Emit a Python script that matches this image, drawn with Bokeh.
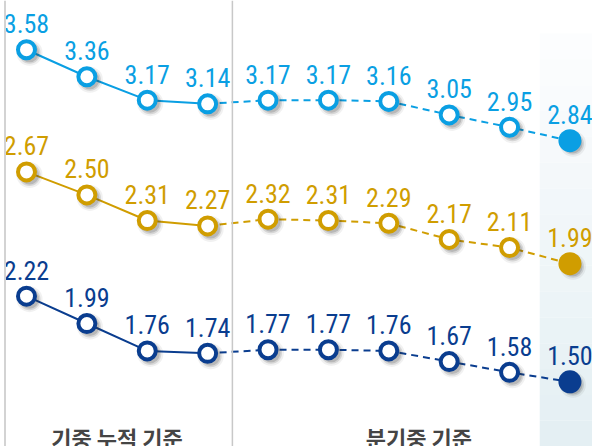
from bokeh.plotting import figure
from bokeh.models import Range1d, Span, BoxAnnotation, Label, ColumnDataSource
from bokeh.core.properties import value
from bokeh.embed import file_html
from bokeh.resources import INLINE

# ---------------- data ----------------
x_idx = list(range(10))
groups = ["기중 누적 기준", "분기중 기준"]
group_sizes = [4, 6]
blue_vals = [3.58, 3.36, 3.17, 3.14, 3.17, 3.17, 3.16, 3.05, 2.95, 2.84]
gold_vals = [2.67, 2.50, 2.31, 2.27, 2.32, 2.31, 2.29, 2.17, 2.11, 1.99]
navy_vals = [2.22, 1.99, 1.76, 1.74, 1.77, 1.77, 1.76, 1.67, 1.58, 1.50]

# ---------------- layout ----------------
W, H = 592, 446
PX_X = 60.38
X0 = -26 / PX_X
X1 = X0 + W / PX_X

# per-series vertical scale: (top value, px per unit)
series = [
    ("blue", blue_vals, "#0a9fe3", 3.159 + 101 / 123.0, 123.0),
    ("gold", gold_vals, "#d09d00", 2.294 + 222.2 / 135.0, 135.0),
    ("navy", navy_vals, "#0a3d8f", 1.776 + 348.5 / 119.0, 119.0),
]

NUM_FONT = value("Roboto Condensed")
KR_FONT = "Noto Sans CJK KR"

p = figure(width=W, height=H, output_backend="svg", toolbar_location=None,
           x_range=Range1d(X0, X1), y_range=Range1d(0, 1), min_border=0)
p.axis.visible = False
p.grid.visible = False
p.outline_line_color = None
p.background_fill_color = "white"
p.border_fill_color = "white"

SH = 3  # shadow offset px
p.extra_x_ranges = {"xsh": Range1d(X0 - SH / PX_X, X1 - SH / PX_X)}

# gradient panel on the right
n_bands = 16
top_frac = 1 - 33 / H
c0 = (252, 253, 254)
c1 = (228, 239, 243)
for b in range(n_bands):
    t = b / (n_bands - 1)
    col = tuple(int(round(c0[k] + (c1[k] - c0[k]) * t)) for k in range(3))
    band_top = top_frac - b * top_frac / n_bands
    band_bot = top_frac - (b + 1) * top_frac / n_bands
    p.add_layout(BoxAnnotation(left=8.5, right=X1, top=band_top, bottom=band_bot,
                               fill_color="#%02x%02x%02x" % col, fill_alpha=1,
                               line_color=None, level="underlay"))

# divider lines
p.add_layout(Span(location=X0 + 4.5 / PX_X, dimension="height", line_color="#d3d3d3", line_width=2))
p.add_layout(Span(location=3.41, dimension="height", line_color="#c8c8c8", line_width=1.5))

n_left = group_sizes[0]
for name, vals, color, top_v, k in series:
    bot_v = top_v - H / k
    p.extra_y_ranges[name] = Range1d(bot_v, top_v)
    p.extra_y_ranges[name + "_sh"] = Range1d(bot_v + SH / k, top_v + SH / k)

    # lines
    p.line(x_idx[:n_left], vals[:n_left], y_range_name=name, line_color=color, line_width=2)
    p.line(x_idx[n_left - 1:], vals[n_left - 1:], y_range_name=name, line_color=color,
           line_width=2, line_dash="7 5")

    # shadows
    for sz, al in ((26, 0.07), (22, 0.14), (19, 0.18)):
        p.scatter(x_idx, vals, x_range_name="xsh", y_range_name=name + "_sh", size=sz,
                  fill_color="#333333", fill_alpha=al, line_color=None)

    # markers
    p.scatter(x_idx[:-1], vals[:-1], y_range_name=name, size=17, fill_color="white",
              line_color=color, line_width=4)
    p.scatter(x_idx[-1:], vals[-1:], y_range_name=name, size=23, fill_color=color,
              line_color=None)

    # value labels
    src = ColumnDataSource(dict(x=x_idx, y=vals, t=["%.2f" % v for v in vals]))
    p.text("x", "y", text="t", source=src, y_range_name=name, text_align="center",
           text_baseline="alphabetic", y_offset=-26, text_color=color,
           text_font=NUM_FONT, text_font_size="26px")

# group labels at bottom
start = 0
for g, n in zip(groups, group_sizes):
    center = (x_idx[start] + x_idx[start + n - 1]) / 2
    start += n
    p.add_layout(Label(x=center, y=26, x_units="data", y_units="screen", text=g,
                       text_align="center", text_baseline="top", text_color="#454545",
                       text_font=KR_FONT, text_font_style="bold", text_font_size="22px"))

open("out.html", "w").write(file_html(p, INLINE))
